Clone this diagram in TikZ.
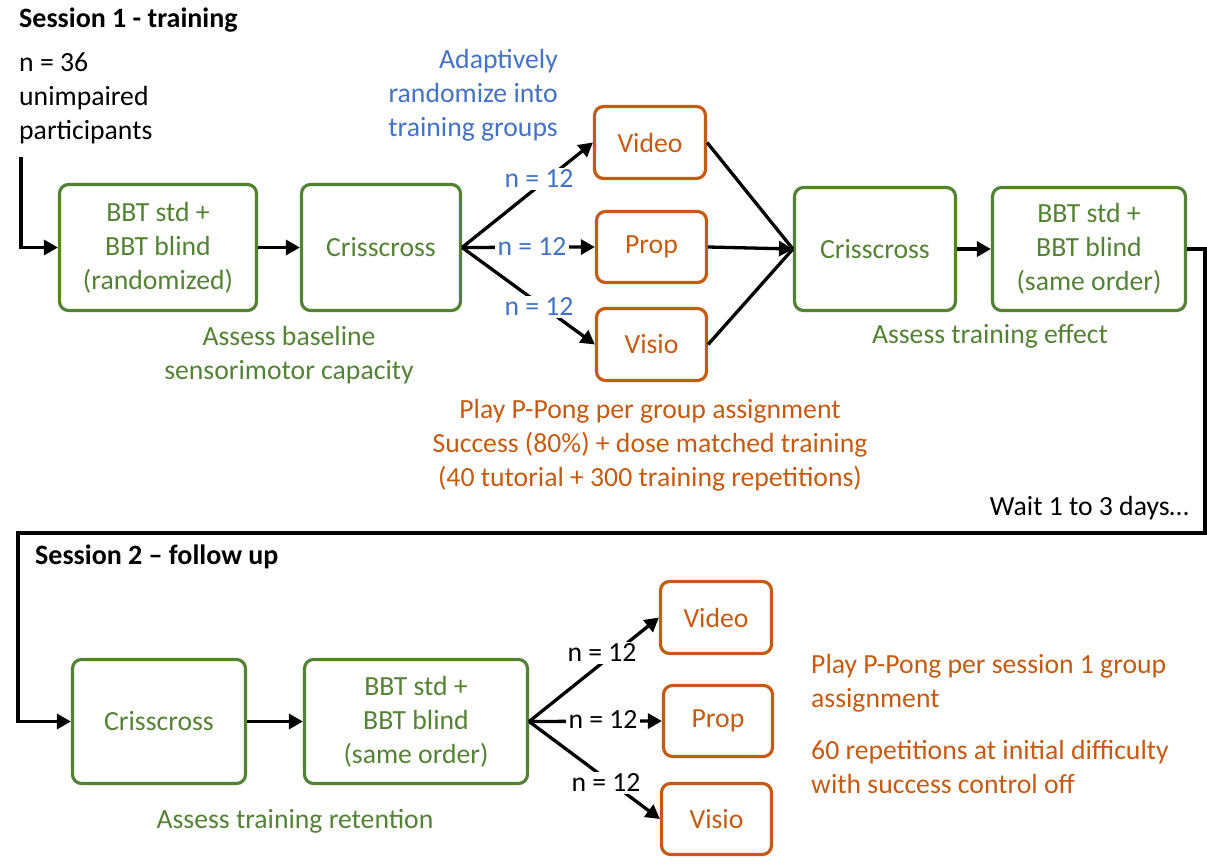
\documentclass[tikz,border=0pt]{standalone}
\usepackage{fontspec}
\setmainfont{Carlito}
\usetikzlibrary{arrows.meta}
\definecolor{sgreen}{HTML}{548235}
\definecolor{sorange}{HTML}{C55A11}
\definecolor{sblue}{HTML}{4472C4}
\begin{document}
\begin{tikzpicture}[x=1pt,y=-1pt,
  every node/.style={font=\fontsize{27.7}{34}\selectfont, inner sep=0pt},
  gbox/.style={draw=sgreen, line width=3.2pt, rounded corners=9pt, text=sgreen, align=center},
  obox/.style={draw=sorange, line width=3.2pt, rounded corners=9pt, text=sorange, align=center},
  conn/.style={draw=black, line width=3.3pt},
  arr/.style={conn, -{Triangle[length=14pt,width=15pt]}},
  lab/.style={fill=white, inner xsep=3pt, inner ysep=2pt},
  gtxt/.style={text=sgreen, align=center},
  otxt/.style={text=sorange},
  btxt/.style={text=sblue},
  ttl/.style={anchor=west, font=\fontsize{28}{34}\selectfont\bfseries}]
\useasboundingbox (0,0) rectangle (1207,867);

% ---------- Session 1 ----------
\node[ttl] (t1) at (19,20) {Session 1 - training};
\node[anchor=west, align=left] (part) at (19,98) {n = 36\\unimpaired\\participants};
\node[anchor=east, align=right, btxt] (adapt) at (558,95) {Adaptively\\randomize into\\training groups};

\node[gbox, minimum width=197pt, minimum height=126pt] (b1) at (158,247.5) {BBT std +\\BBT blind\\(randomized)};
\node[gbox, minimum width=159pt, minimum height=126pt] (c1) at (381,247.5) {Crisscross};
\node[obox, minimum width=111pt, minimum height=72pt] (v1) at (650,142.5) {Video};
\node[obox, minimum width=110pt, minimum height=71pt] (p1) at (651.5,247) {Prop};
\node[obox, minimum width=110pt, minimum height=72pt] (s1) at (651.5,344.5) {Visio};
\node[gbox, minimum width=161pt, minimum height=123pt] (c2) at (875,249) {Crisscross};
\node[gbox, minimum width=193pt, minimum height=123pt] (b2) at (1089,249) {BBT std +\\BBT blind\\(same order)};

\node[gtxt] (ab) at (289,355.5) {Assess baseline\\sensorimotor capacity};
\node[gtxt] (ae) at (990,336) {Assess training effect};
\node[otxt, align=center] (play1) at (650,445) {Play P-Pong per group assignment\\Success (80\%) + dose matched training\\(40 tutorial + 300 training repetitions)};
\node[anchor=east] (wait) at (1189,508) {Wait 1 to 3 days…};

\coordinate (s0) at (21,157);
\draw[arr] (s0) |- (b1.west);
\draw[arr] (b1.east) -- (c1.west);
\draw[arr] (c1.east) -- (v1.west);
\draw[arr] (c1.east) -- (p1.west);
\draw[arr] (c1.east) -- (s1.west);
\draw[conn] (v1.east) -- (c2.west);
\draw[conn] (s1.east) -- (c2.west);
\draw[arr] (p1.east) -- (c2.west);
\draw[arr] (c2.east) -- (b2.west);

\node[lab, btxt] (n1a) at (539,179) {n = 12};
\node[lab, btxt] (n1b) at (532,247) {n = 12};
\node[lab, btxt] (n1c) at (539,307) {n = 12};

% ---------- Session 2 ----------
\coordinate (k1) at (1205,533);
\coordinate (k2) at (18,533);
\node[gbox, minimum width=173pt, minimum height=124pt] (c3) at (159,721.5) {Crisscross};
\node[gbox, minimum width=223pt, minimum height=124pt] (b3) at (416,721.5) {BBT std +\\BBT blind\\(same order)};
\node[obox, minimum width=111pt, minimum height=72pt] (v2) at (716,617.5) {Video};
\node[obox, minimum width=109pt, minimum height=71pt] (p2) at (718,721) {Prop};
\node[obox, minimum width=110pt, minimum height=71pt] (s2) at (716.5,819) {Visio};

\draw[arr] (b2.east) -| (k1) -- (k2) |- (c3.west);
\node[ttl] (t2) at (35,557) {Session 2 – follow up};

\draw[arr] (c3.east) -- (b3.west);
\draw[arr] (b3.east) -- (v2.west);
\draw[arr] (b3.east) -- (p2.west);
\draw[arr] (b3.east) -- (s2.west);

\node[lab] (n2a) at (602,653) {n = 12};
\node[lab] (n2b) at (603,720) {n = 12};
\node[lab] (n2c) at (606,783) {n = 12};

\node[gtxt] (ar) at (295,821) {Assess training retention};
\node[otxt, anchor=west, align=left] (play2) at (811,683) {Play P-Pong per session 1 group\\assignment};
\node[otxt, anchor=west, align=left] (rep) at (811,767) {60 repetitions at initial difficulty\\with success control off};
\end{tikzpicture}
\end{document}
